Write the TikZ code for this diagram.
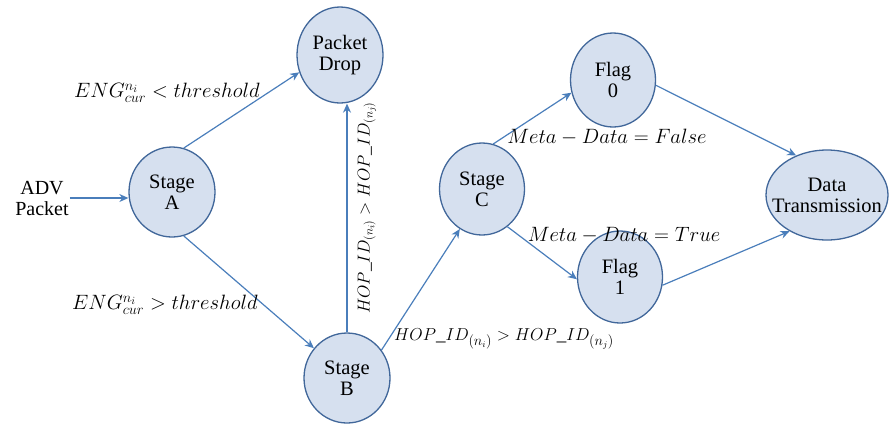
\documentclass[tikz,border=0pt]{standalone}
\usepackage{fontspec}
\setmainfont{Liberation Serif}
\usetikzlibrary{shapes.geometric,arrows.meta}
\definecolor{nodefill}{HTML}{D6E0EF}
\definecolor{nodeedge}{HTML}{41679A}
\definecolor{arrowblue}{HTML}{4A7EBB}
\begin{document}
\begin{tikzpicture}[x=1pt,y=-1pt,
  state/.style={ellipse,draw=nodeedge,fill=nodefill,line width=1.3pt,inner sep=0pt,
    align=center,font=\fontsize{20.5}{21}\selectfont},
  flow/.style={draw=arrowblue,line width=1.2pt,-{Stealth[length=9pt,width=8pt]}},
  lbl/.style={font=\fontsize{19}{21}\selectfont,inner sep=1pt}]
\useasboundingbox (0,0) rectangle (890,424);
\node[state,minimum width=86pt,minimum height=90pt] (A) at (172,192) {Stage\\A};
\node[state,minimum width=86pt,minimum height=96pt] (PD) at (340,55) {Packet\\Drop};
\node[state,minimum width=86pt,minimum height=90pt] (B) at (347,378) {Stage\\B};
\node[state,minimum width=85pt,minimum height=92pt] (C) at (482,189) {Stage\\C};
\node[state,minimum width=85pt,minimum height=94pt] (F0) at (613,80) {Flag\\0};
\node[state,minimum width=85pt,minimum height=92pt] (F1) at (620,277) {Flag\\1};
\node[state,minimum width=122pt,minimum height=90pt,inner xsep=-13pt,inner ysep=-6pt] (DT) at (827,195) {Data\\Transmission};
\node[align=center,font=\fontsize{20}{21}\selectfont,inner sep=1pt] (adv) at (42,198) {ADV\\Packet};

\draw[flow] (adv.east) -- (A.west |- adv.east);
\draw[flow] (A.75) -- (PD.203);
\draw[flow] (A.285) -- (B.138);
\draw[flow] (B.north) -- (B.north |- PD.south);
\draw[flow] (B.39) -- (C.241);
\draw[flow] (C.76) -- (F0.197);
\draw[flow] (C.304) -- (F1.183);
\draw[flow] (F0.353) -- (DT.128);
\draw[flow] (F1.349) -- (DT.224);

\node[lbl,font=\fontsize{22.5}{24}\selectfont] (l1) at (167,93) {$ENG_{cur}^{n_i} < threshold$};
\node[lbl,font=\fontsize{22.5}{24}\selectfont] (l2) at (165,305) {$ENG_{cur}^{n_i} > threshold$};
\node[lbl,rotate=90,font=\fontsize{17.5}{20}\selectfont] (l3) at (367,208) {$HOP\_ID_{(n_i)} > HOP\_ID_{(n_j)}$};
\node[lbl] (l4) at (504,339) {$HOP\_ID_{(n_i)} > HOP\_ID_{(n_j)}$};
\node[lbl,font=\fontsize{22}{24}\selectfont] (l5) at (607,137) {$Meta-Data=False$};
\node[lbl,font=\fontsize{22}{24}\selectfont] (l6) at (624,235) {$Meta-Data=True$};
\end{tikzpicture}
\end{document}
